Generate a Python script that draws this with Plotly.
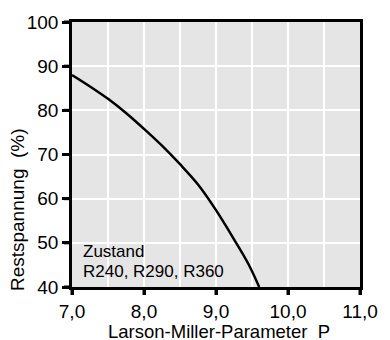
import plotly.graph_objects as go

p_values = [7.0, 7.25, 7.5, 7.75, 8.0, 8.25, 8.5, 8.75, 9.0, 9.25, 9.45, 9.6]
rest_values = [88.0, 85.4, 82.6, 79.4, 75.8, 72.0, 67.8, 63.2, 57.4, 50.8, 45.2, 40.0]
x_ticks = [7.0, 8.0, 9.0, 10.0, 11.0]
x_ticklabels = ["7,0", "8,0", "9,0", "10,0", "11,0"]
y_ticks = [40, 50, 60, 70, 80, 90, 100]
x_range = [7.0, 11.0]
y_range = [40, 100]

font = "Liberation Sans, Arial, sans-serif"
FS = 19
TL = 8

fig = go.Figure()
fig.add_trace(go.Scatter(x=p_values, y=rest_values, mode="lines",
                         line=dict(color="black", width=2.5, shape="spline"),
                         showlegend=False, hoverinfo="skip"))

fig.add_annotation(x=0.03, y=(48.0 - 40) / 60, xref="paper", yref="paper",
                   xanchor="left", yanchor="middle", align="left",
                   text="Zustand", showarrow=False,
                   font=dict(family=font, size=17, color="black"))
fig.add_annotation(x=0.03, y=(43.6 - 40) / 60, xref="paper", yref="paper",
                   xanchor="left", yanchor="middle", align="left",
                   text="R240, R290, R360", showarrow=False,
                   font=dict(family=font, size=17, color="black"))

# axis titles
fig.add_annotation(x=-0.191, y=0.294, xref="paper", yref="paper",
                   xanchor="center", yanchor="middle", textangle=-90,
                   text="Restspannung  (%)", showarrow=False,
                   font=dict(family=font, size=FS, color="black"))
fig.add_annotation(x=0.51, y=-0.168, xref="paper", yref="paper",
                   xanchor="center", yanchor="middle", borderpad=0,
                   text="Larson-Miller-Parameter  P", showarrow=False,
                   font=dict(family=font, size=18.5, color="black"))

# explicit outside tick marks (paper-referenced, not clipped)
for xv in x_ticks:
    xp = (xv - x_range[0]) / (x_range[1] - x_range[0])
    fig.add_shape(type="line", xref="paper", yref="paper", x0=xp, x1=xp,
                  ysizemode="pixel", yanchor=0, y0=0, y1=-TL, layer="above",
                  line=dict(color="black", width=3))
for yv in y_ticks:
    yp = (yv - y_range[0]) / (y_range[1] - y_range[0])
    fig.add_shape(type="line", xref="paper", yref="paper", y0=yp, y1=yp,
                  xsizemode="pixel", xanchor=0, x0=0, x1=-TL, layer="above",
                  line=dict(color="black", width=3))

fig.update_xaxes(range=x_range, tickvals=x_ticks, ticktext=x_ticklabels,
                 ticks="outside", ticklen=5, tickwidth=3, tickcolor="black",
                 showline=True, linecolor="black", linewidth=2.5, mirror=True,
                 showgrid=True, gridcolor="white", gridwidth=2,
                 minor=dict(dtick=0.5, showgrid=True, gridcolor="white", gridwidth=2),
                 zeroline=False,
                 tickfont=dict(family=font, size=FS, color="black"))
fig.update_yaxes(range=y_range, tickvals=y_ticks,
                 ticks="outside", ticklen=7, tickwidth=3, tickcolor="black",
                 showline=True, linecolor="black", linewidth=2.5, mirror=True,
                 showgrid=True, gridcolor="white", gridwidth=2, zeroline=False,
                 tickfont=dict(family=font, size=FS, color="black"))

fig.update_layout(width=390, height=340, margin=dict(l=72, r=20, t=15, b=53),
                  plot_bgcolor="#e5e5e5", paper_bgcolor="white")

fig.write_html("out.html")
